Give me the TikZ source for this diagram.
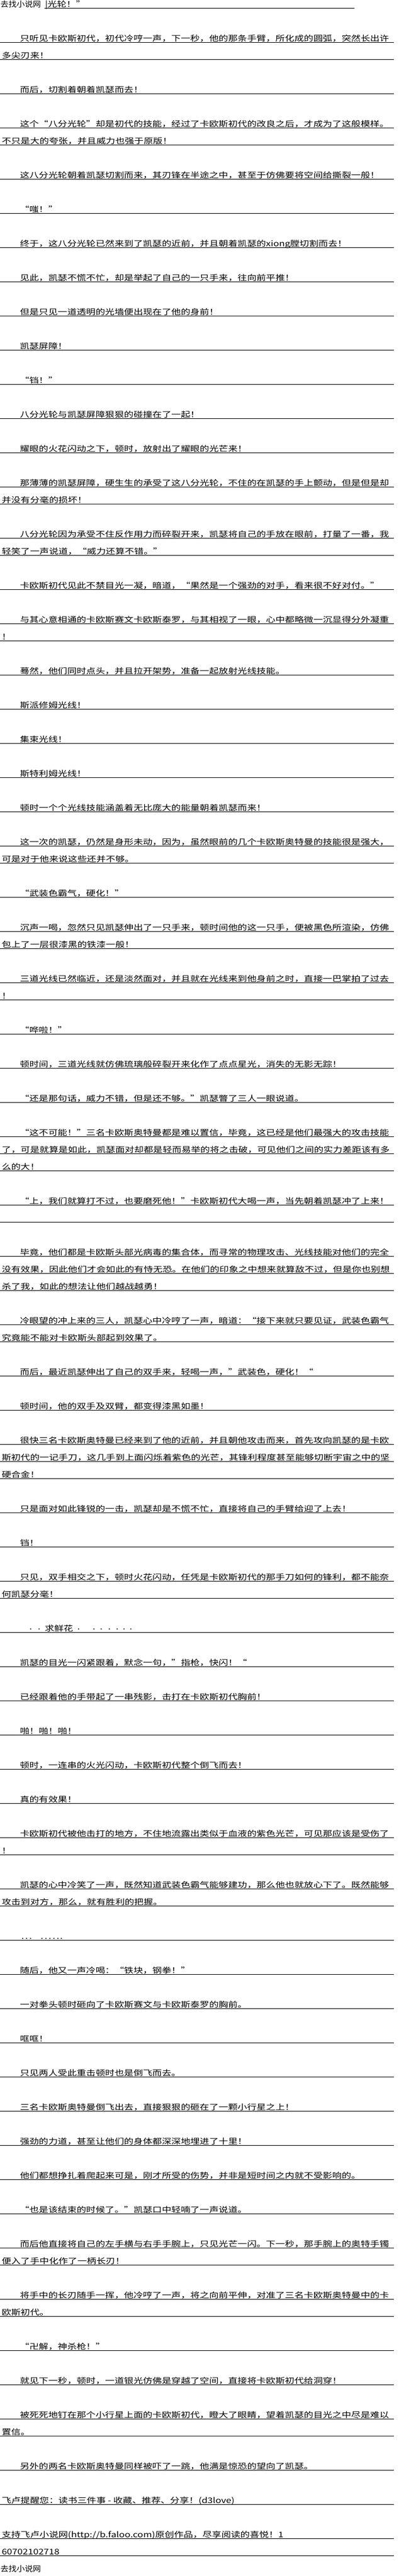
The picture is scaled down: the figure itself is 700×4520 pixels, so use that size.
\documentclass[tikz,border=0pt]{standalone}
\usepackage{fontspec}
\newfontfamily\cjkbody[FakeStretch=1.23]{Noto Sans CJK SC}
\newfontfamily\cjkhead[FakeStretch=1.05]{Noto Sans CJK SC}
\newcommand\oq{\makebox[16.6pt][r]{“}}
\newcommand\cq{\makebox[16.6pt][l]{”}}
\newcommand\putat[2]{\rlap{\hspace*{#1pt}#2}}
\tikzset{
  txt/.style={anchor=base west, inner sep=0pt, outer sep=0pt, font=\cjkbody\fontsize{13.5}{13.5}\selectfont, text=black},
  headtxt/.style={anchor=base west, inner sep=0pt, outer sep=0pt, font=\cjkhead\fontsize{13.5}{13.5}\selectfont, text=black},
  rule/.style={line width=1pt, draw=black}
}
\newcommand\plI[2]{\pgfmathsetmacro\yy{14.5+30*#1}\draw[rule] (0,\yy) -- (691,\yy);\node[txt] (l#1) at (35,\yy-2) {#2};}
\newcommand\plN[2]{\pgfmathsetmacro\yy{14.5+30*#1}\draw[rule] (0,\yy) -- (691,\yy);\node[txt] (l#1) at (3,\yy-2) {#2};}
\newcommand\plE[1]{\pgfmathsetmacro\yy{14.5+30*#1}\draw[rule] (0,\yy) -- (691,\yy);}
\begin{document}
\begin{tikzpicture}[x=1pt,y=-1pt]
\useasboundingbox[fill=white] (0,0) rectangle (700,4520);
% header
\node[headtxt] (h0a) at (1,12.5) {去找小说网};
\draw[rule] (78,14.5) -- (622,14.5);
\node[txt] (h0b) at (79,12.5) {|光轮！\cq};
\plI{2}{只听见卡欧斯初代，初代冷哼一声，下一秒，他的那条手臂，所化成的圆弧，突然长出许}
\plN{3}{多尖刃来！}
\plI{5}{而后，切割着朝着凯瑟而去！}
\plI{7}{这个\oq 八分光轮\cq 却是初代的技能，经过了卡欧斯初代的改良之后，才成为了这般模样。}
\plN{8}{不只是大的夸张，并且威力也强于原版！}
\plI{10}{这八分光轮朝着凯瑟切割而来，其刃锋在半途之中，甚至于仿佛要将空间给撕裂一般！}
\plI{12}{\oq 嗤！\cq}
\plI{14}{终于，这八分光轮已然来到了凯瑟的近前，并且朝着凯瑟的xiong膛切割而去！}
\plI{16}{见此，凯瑟不慌不忙，却是举起了自己的一只手来，往向前平推！}
\plI{18}{但是只见一道透明的光墙便出现在了他的身前！}
\plI{20}{凯瑟屏障！}
\plI{22}{\oq 铛！\cq}
\plI{24}{八分光轮与凯瑟屏障狠狠的碰撞在了一起！}
\plI{26}{耀眼的火花闪动之下，顿时，放射出了耀眼的光芒来！}
\plI{28}{那薄薄的凯瑟屏障，硬生生的承受了这八分光轮，不住的在凯瑟的手上颤动，但是但是却}
\plN{29}{并没有分毫的损坏！}
\plI{31}{八分光轮因为承受不住反作用力而碎裂开来，凯瑟将自己的手放在眼前，打量了一番，我}
\plN{32}{轻笑了一声说道，\oq 威力还算不错。\cq}
\plI{34}{卡欧斯初代见此不禁目光一凝，暗道，\oq 果然是一个强劲的对手，看来很不好对付。\cq}
\plI{36}{与其心意相通的卡欧斯赛文卡欧斯泰罗，与其相视了一眼，心中都略微一沉显得分外凝重}
\plN{37}{！}
\plI{39}{蓦然，他们同时点头，并且拉开架势，准备一起放射光线技能。}
\plI{41}{斯派修姆光线！}
\plI{43}{集束光线！}
\plI{45}{斯特利姆光线！}
\plI{47}{顿时一个个光线技能涵盖着无比庞大的能量朝着凯瑟而来！}
\plI{49}{这一次的凯瑟，仍然是身形未动，因为，虽然眼前的几个卡欧斯奥特曼的技能很是强大，}
\plN{50}{可是对于他来说这些还并不够。}
\plI{52}{\oq 武装色霸气，硬化！\cq}
\plI{54}{沉声一喝，忽然只见凯瑟伸出了一只手来，顿时间他的这一只手，便被黑色所渲染，仿佛}
\plN{55}{包上了一层很漆黑的铁漆一般！}
\plI{57}{三道光线已然临近，还是淡然面对，并且就在光线来到他身前之时，直接一巴掌拍了过去}
\plN{58}{！}
\plI{60}{\oq 哗啦！\cq}
\plI{62}{顿时间，三道光线就仿佛琉璃般碎裂开来化作了点点星光，消失的无影无踪！}
\plI{64}{\oq 还是那句话，威力不错，但是还不够。\cq 凯瑟瞥了三人一眼说道。}
\plI{66}{\oq 这不可能！\cq 三名卡欧斯奥特曼都是难以置信，毕竟，这已经是他们最强大的攻击技能}
\plN{67}{了，可是就算是如此，凯瑟面对却都是轻而易举的将之击破，可见他们之间的实力差距该有多}
\plN{68}{么的大！}
\plI{70}{\oq 上，我们就算打不过，也要磨死他！\cq 卡欧斯初代大喝一声，当先朝着凯瑟冲了上来！}
\plE{71}
\plI{73}{毕竟，他们都是卡欧斯头部光病毒的集合体，而寻常的物理攻击、光线技能对他们的完全}
\plN{74}{没有效果，因此他们才会如此的有恃无恐。在他们的印象之中想来就算敌不过，但是你也别想}
\plN{75}{杀了我，如此的想法让他们越战越勇！}
\plI{77}{冷眼望的冲上来的三人，凯瑟心中冷哼了一声，暗道：\oq 接下来就只要见证，武装色霸气}
\plN{78}{究竟能不能对卡欧斯头部起到效果了。}
\plI{80}{而后，最近凯瑟伸出了自己的双手来，轻喝一声，\cq 武装色，硬化！\oq}
\plI{82}{顿时间，他的双手及双臂，都变得漆黑如墨！}
\plI{84}{很快三名卡欧斯奥特曼已经来到了他的近前，并且朝他攻击而来，首先攻向凯瑟的是卡欧}
\plN{85}{斯初代的一记手刀，这几手到上面闪烁着紫色的光芒，其锋利程度甚至能够切断宇宙之中的坚}
\plN{86}{硬合金！}
\plI{88}{只是面对如此锋锐的一击，凯瑟却是不慌不忙，直接将自己的手臂给迎了上去！}
\plI{90}{铛！}
\plI{92}{只见，双手相交之下，顿时火花闪动，任凭是卡欧斯初代的那手刀如何的锋利，都不能奈}
\plN{93}{何凯瑟分毫！}
\plN{95}{\putat{48}{\raisebox{3pt}{.}}\putat{63}{\raisebox{3pt}{.}}\putat{75}{求鲜花}\putat{132}{\raisebox{3pt}{.}}\putat{159}{\raisebox{3pt}{.}}\putat{172}{\raisebox{3pt}{.}}\putat{186}{\raisebox{3pt}{.}}\putat{200}{\raisebox{3pt}{.}}\putat{212}{\raisebox{3pt}{.}}\putat{224}{\raisebox{3pt}{.}}}
\plI{97}{凯瑟的目光一闪紧跟着，默念一句，\cq 指枪，快闪！\oq}
\plI{99}{已经跟着他的手带起了一串残影，击打在卡欧斯初代胸前！}
\plI{101}{啪！啪！啪！}
\plI{103}{顿时，一连串的火光闪动，卡欧斯初代整个倒飞而去！}
\plI{105}{真的有效果！}
\plI{107}{卡欧斯初代被他击打的地方，不住地流露出类似于血液的紫色光芒，可见那应该是受伤了}
\plN{108}{！}
\plI{110}{凯瑟的心中冷笑了一声，既然知道武装色霸气能够建功，那么他也就放心下了。既然能够}
\plN{111}{攻击到对方，那么，就有胜利的把握。}
\plN{113}{\putat{34}{.}\putat{41}{.}\putat{48}{.}\putat{68}{.}\putat{75}{.}\putat{82}{.}\putat{89}{.}\putat{96}{.}\putat{102}{.}}
\plI{115}{随后，他又一声冷喝：\oq 铁块，钢拳！\cq}
\plI{117}{一对拳头顿时砸向了卡欧斯赛文与卡欧斯泰罗的胸前。}
\plI{119}{哐哐！}
\plI{121}{只见两人受此重击顿时也是倒飞而去。}
\plI{123}{三名卡欧斯奥特曼倒飞出去，直接狠狠的砸在了一颗小行星之上！}
\plI{125}{强劲的力道，甚至让他们的身体都深深地埋进了十里！}
\plI{127}{他们都想挣扎着爬起来可是，刚才所受的伤势，并非是短时间之内就不受影响的。}
\plI{129}{\oq 也是该结束的时候了。\cq 凯瑟口中轻喃了一声说道。}
\plI{131}{而后他直接将自己的左手横与右手手腕上，只见光芒一闪。下一秒，那手腕上的奥特手镯}
\plN{132}{便入了手中化作了一柄长刃！}
\plI{134}{将手中的长刃随手一挥，他冷哼了一声，将之向前平伸，对准了三名卡欧斯奥特曼中的卡}
\plN{135}{欧斯初代。}
\plI{137}{\oq 卍解，神杀枪！\cq}
\plI{139}{就见下一秒，顿时，一道银光仿佛是穿越了空间，直接将卡欧斯初代给洞穿！}
\plI{141}{被死死地钉在那个小行星上面的卡欧斯初代，瞪大了眼睛，望着凯瑟的目光之中尽是难以}
\plN{142}{置信。}
\plI{144}{另外的两名卡欧斯奥特曼同样被吓了一跳，他满是惊恐的望向了凯瑟。}
\plN{146}{飞卢提醒您：读书三件事 - 收藏、推荐、分享！(d3love)}
\plN{148}{支持飞卢小说网(http://b.faloo.com)原创作品，尽享阅读的喜悦！1}
\plN{149}{60702102718}
\node[headtxt] (f150) at (1,4512.5) {去找小说网};
\end{tikzpicture}
\end{document}
